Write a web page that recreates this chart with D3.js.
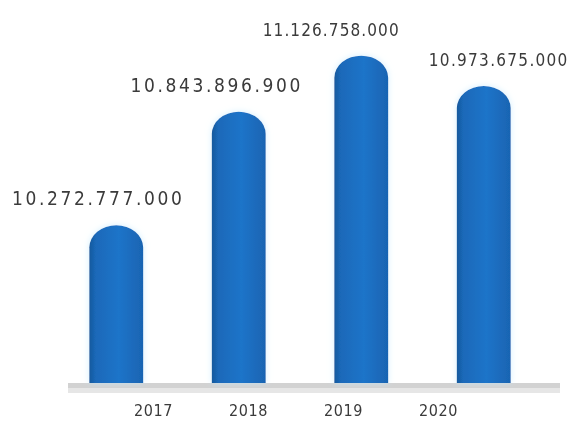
<!DOCTYPE html>
<html>
<head>
<meta charset="utf-8">
<script src="https://cdn.jsdelivr.net/npm/d3@7"></script>
<style>
  html, body { margin: 0; padding: 0; background: #ffffff; }
  svg { display: block; }
</style>
</head>
<body>
<svg id="chart" width="574" height="443"></svg>
<script>
// Annual totals, 2017–2020
const years = ["2017", "2018", "2019", "2020"];
const totals = [10272777000, 10843896900, 11126758000, 10973675000];
// Label placement tweaks per bar (horizontal shift, font size, letter spacing)
const labelShift = [-18, -22, -30, 15];
const labelSize = [19, 19, 17, 17];
const labelSpacing = [2.6, 2.6, 1.1, 1.3];

const W = 574, H = 443;
const baseY = 383;
const svg = d3.select("#chart");

// Number format with dots as thousands separators
const locale = d3.formatLocale({ decimal: ",", thousands: ".", grouping: [3], currency: ["", ""] });
const fmt = locale.format(",d");

const x = d3.scaleBand().domain(years).range([55, 545]).paddingInner(0.56).paddingOuter(0.28);
const xAxisScale = d3.scalePoint().domain(years).range([153, 438]);
const y = d3.scaleLinear().domain([9.479e9, 11.13e9]).range([baseY, 55]);

const defs = svg.append("defs");
const grad = defs.append("linearGradient").attr("id", "barGrad").attr("x1", 0).attr("x2", 1).attr("y1", 0).attr("y2", 0);
grad.append("stop").attr("offset", "0%").attr("stop-color", "#17599d");
grad.append("stop").attr("offset", "12%").attr("stop-color", "#1a69b9");
grad.append("stop").attr("offset", "55%").attr("stop-color", "#1d74c9");
grad.append("stop").attr("offset", "100%").attr("stop-color", "#1964b2");

const glow = defs.append("filter").attr("id", "glow").attr("x", "-30%").attr("y", "-30%").attr("width", "160%").attr("height", "160%");
glow.append("feGaussianBlur").attr("in", "SourceAlpha").attr("stdDeviation", 3).attr("result", "b");
glow.append("feFlood").attr("flood-color", "#bfe9ff").attr("flood-opacity", 0.7);
glow.append("feComposite").attr("in2", "b").attr("operator", "in").attr("result", "g");
const gm = glow.append("feMerge");
gm.append("feMergeNode").attr("in", "g");
gm.append("feMergeNode").attr("in", "SourceGraphic");

const blur = defs.append("filter").attr("id", "soft");
blur.append("feGaussianBlur").attr("stdDeviation", 0.6);

// Floor strip under the bars
svg.append("rect")
  .attr("x", 68).attr("y", baseY + 2).attr("width", 492).attr("height", 8)
  .attr("fill", "#e6e6e6").attr("filter", "url(#soft)");
svg.append("rect")
  .attr("x", 68).attr("y", baseY).attr("width", 492).attr("height", 5)
  .attr("fill", "#d2d2d2").attr("filter", "url(#soft)");

// Bars with rounded tops
function barPath(x0, w, top, bottom) {
  const r = w / 2;
  const ry = Math.min(22, (bottom - top) / 2);
  return `M${x0},${bottom} L${x0},${top + ry} A${r},${ry} 0 0 1 ${x0 + w},${top + ry} L${x0 + w},${bottom} Z`;
}

const data = years.map((yr, i) => ({ yr, v: totals[i], i }));

svg.append("g").selectAll("path.bar").data(data).join("path")
  .attr("class", "bar")
  .attr("d", d => barPath(x(d.yr), x.bandwidth(), y(d.v), baseY))
  .attr("fill", "url(#barGrad)")
  .attr("filter", "url(#glow)");

// Value labels
svg.append("g").selectAll("text.val").data(data).join("text")
  .attr("class", "val")
  .attr("x", d => x(d.yr) + x.bandwidth() / 2 + labelShift[d.i])
  .attr("y", d => y(d.v) - 20)
  .attr("text-anchor", "middle")
  .attr("font-family", "'Liberation Sans Narrow', 'DejaVu Sans Condensed', sans-serif")
  .attr("font-size", d => labelSize[d.i])
  .attr("letter-spacing", d => labelSpacing[d.i])
  .attr("fill", "#3a3a3a")
  .attr("filter", "url(#soft)")
  .text(d => fmt(d.v));

// Year axis
const axis = svg.append("g")
  .attr("transform", `translate(0,${baseY + 22})`)
  .call(d3.axisBottom(xAxisScale).tickSize(0).tickPadding(0));
axis.select(".domain").remove();
axis.selectAll("text")
  .attr("font-family", "'Liberation Sans Narrow', 'DejaVu Sans Condensed', sans-serif")
  .attr("font-size", 16)
  .attr("letter-spacing", 0.6)
  .attr("fill", "#3a3a3a")
  .attr("filter", "url(#soft)");
</script>
</body>
</html>
